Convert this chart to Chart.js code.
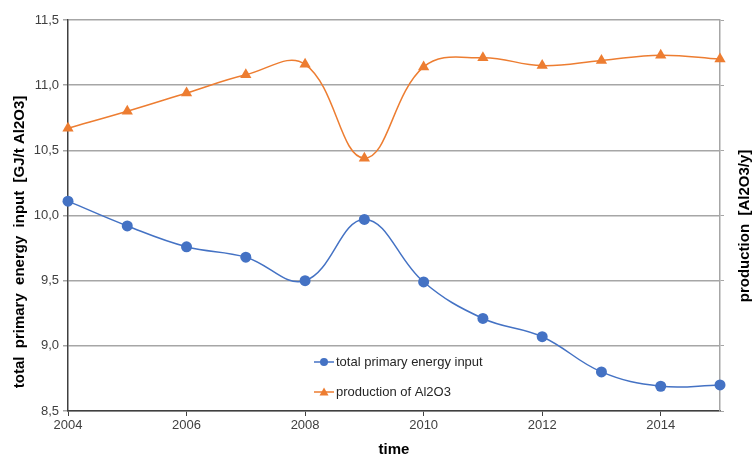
<!DOCTYPE html>
<html>
<head>
<meta charset="utf-8">
<script src="https://cdn.jsdelivr.net/npm/chart.js@4/dist/chart.umd.min.js"></script>
<style>
  html, body { margin: 0; padding: 0; background: #fff; }
  #wrap { width: 754px; height: 459px; }
</style>
</head>
<body>
<div id="wrap"><canvas id="chart" width="754" height="459"></canvas></div>
<script>
// data
const years = [2004, 2005, 2006, 2007, 2008, 2009, 2010, 2011, 2012, 2013, 2014, 2015];
const energyInput = [10.11, 9.92, 9.76, 9.68, 9.50, 9.97, 9.49, 9.21, 9.07, 8.80, 8.69, 8.70];
const productionAl2O3 = [10.67, 10.80, 10.94, 11.08, 11.16, 10.44, 11.14, 11.21, 11.15, 11.19, 11.23, 11.20];
const seriesNames = ['total primary energy input', 'production of Al2O3'];
const leftTitle = 'total  primary  energy  input  [GJ/t Al2O3]';
const rightTitle = 'production  [Al2O3/y]';

const FONT = '"Liberation Sans", Arial, sans-serif';
const BLUE = '#4472C4';
const ORANGE = '#ED7D31';

const toPoints = vals => years.map((x, i) => ({ x: x, y: vals[i] }));
const fmt = v => v.toFixed(1).replace('.', ',');

// legend inside plot + rotated axis titles
const extras = {
  id: 'extras',
  afterDraw(chart) {
    const ctx = chart.ctx;
    ctx.save();
    ctx.font = 'bold 15px ' + FONT;
    ctx.fillStyle = '#000';
    ctx.textAlign = 'center';
    ctx.textBaseline = 'middle';
    ctx.translate(20, 242);
    ctx.rotate(-Math.PI / 2);
    ctx.fillText(leftTitle, 0, 0);
    ctx.restore();

    ctx.save();
    ctx.font = 'bold 15px ' + FONT;
    ctx.fillStyle = '#000';
    ctx.textAlign = 'center';
    ctx.textBaseline = 'middle';
    ctx.translate(745, 226);
    ctx.rotate(-Math.PI / 2);
    ctx.fillText(rightTitle, 0, 0);
    ctx.restore();

    const rows = [362, 392];
    chart.data.datasets.forEach((ds, i) => {
      const y = rows[i];
      ctx.save();
      ctx.strokeStyle = ds.borderColor;
      ctx.lineWidth = 1.5;
      ctx.beginPath();
      ctx.moveTo(314, y);
      ctx.lineTo(334, y);
      ctx.stroke();
      ctx.fillStyle = ds.borderColor;
      if (ds.pointStyle === 'triangle') {
        ctx.beginPath();
        ctx.moveTo(324, y - 4.5);
        ctx.lineTo(328.5, y + 3.5);
        ctx.lineTo(319.5, y + 3.5);
        ctx.closePath();
        ctx.fill();
      } else {
        ctx.beginPath();
        ctx.arc(324, y, 4, 0, Math.PI * 2);
        ctx.fill();
      }
      ctx.fillStyle = '#262626';
      ctx.font = '13px ' + FONT;
      ctx.textAlign = 'left';
      ctx.textBaseline = 'middle';
      ctx.fillText(ds.label, 336, y);
      ctx.restore();
    });
  }
};

new Chart(document.getElementById('chart'), {
  type: 'line',
  data: {
    datasets: [
      {
        label: seriesNames[0],
        data: toPoints(energyInput),
        borderColor: BLUE,
        backgroundColor: BLUE,
        borderWidth: 1.5,
        pointStyle: 'circle',
        pointRadius: 5.5,
        pointBorderWidth: 0,
        tension: 0.4,
        yAxisID: 'y'
      },
      {
        label: seriesNames[1],
        data: toPoints(productionAl2O3),
        borderColor: ORANGE,
        backgroundColor: ORANGE,
        borderWidth: 1.5,
        pointStyle: 'triangle',
        pointRadius: 6.5,
        pointBorderWidth: 0,
        tension: 0.4,
        yAxisID: 'y'
      }
    ]
  },
  options: {
    responsive: false,
    animation: false,
    clip: false,
    layout: { padding: { top: 20, left: 0, right: 0, bottom: 0 } },
    plugins: {
      legend: { display: false },
      tooltip: { enabled: false }
    },
    scales: {
      x: {
        type: 'linear',
        position: 'bottom',
        min: 2004,
        max: 2015,
        afterBuildTicks: scale => {
          scale.ticks = scale.ticks.filter(t => (t.value - 2004) % 2 === 0);
        },
        afterFit: scale => { scale.height = 48; },
        ticks: {
          stepSize: 2,
          color: '#404040',
          font: { family: FONT, size: 13 },
          padding: 2,
          maxRotation: 0,
          callback: v => String(v)
        },
        grid: { drawOnChartArea: false, tickLength: 5, color: '#404040', lineWidth: 1 },
        border: { color: '#404040', width: 1.5 },
        title: {
          display: true,
          text: 'time',
          color: '#000',
          font: { family: FONT, size: 15, weight: 'bold' },
          padding: { top: 4, bottom: 0 }
        }
      },
      y: {
        position: 'left',
        min: 8.5,
        max: 11.5,
        afterFit: scale => { scale.width = 68; },
        ticks: {
          stepSize: 0.5,
          color: '#404040',
          font: { family: FONT, size: 13 },
          padding: 4,
          callback: v => fmt(v)
        },
        grid: { color: '#a6a6a6', lineWidth: 1.5, tickLength: 5 },
        border: { color: '#404040', width: 1.5 }
      },
      y2: {
        position: 'right',
        min: 8.5,
        max: 11.5,
        afterFit: scale => { scale.width = 34; },
        ticks: { stepSize: 0.5, display: false },
        grid: { drawOnChartArea: false, color: '#a6a6a6', tickLength: 4 },
        border: { color: '#a6a6a6', width: 1.5 }
      }
    }
  },
  plugins: [extras]
});
</script>
</body>
</html>
